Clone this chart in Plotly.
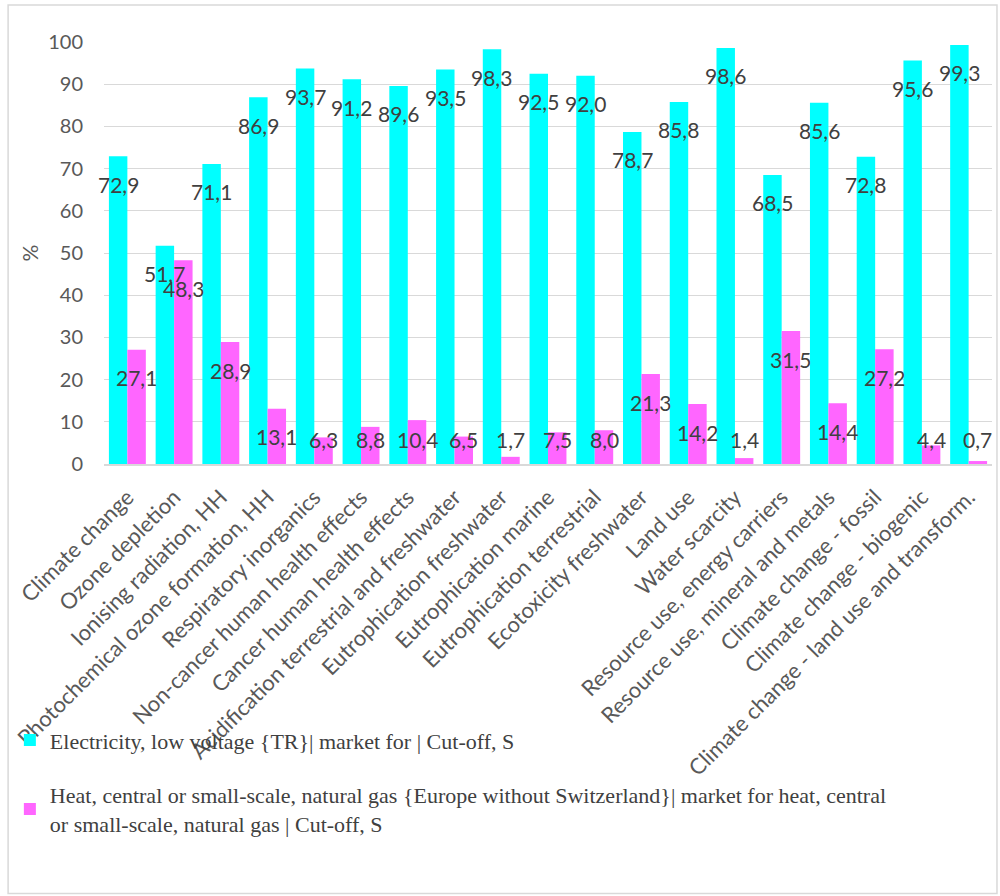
import plotly.graph_objects as go

categories = [
    "Climate change", "Ozone depletion", "Ionising radiation, HH",
    "Photochemical ozone formation, HH", "Respiratory inorganics",
    "Non-cancer human health effects", "Cancer human health effects",
    "Acidification terrestrial and freshwater", "Eutrophication freshwater",
    "Eutrophication marine", "Eutrophication terrestrial", "Ecotoxicity freshwater",
    "Land use", "Water scarcity", "Resource use, energy carriers",
    "Resource use, mineral and metals", "Climate change - fossil",
    "Climate change - biogenic", "Climate change - land use and transform.",
]
electricity = [72.9, 51.7, 71.1, 86.9, 93.7, 91.2, 89.6, 93.5, 98.3, 92.5,
               92.0, 78.7, 85.8, 98.6, 68.5, 85.6, 72.8, 95.6, 99.3]
heat = [27.1, 48.3, 28.9, 13.1, 6.3, 8.8, 10.4, 6.5, 1.7, 7.5,
        8.0, 21.3, 14.2, 1.4, 31.5, 14.4, 27.2, 4.4, 0.7]

name_elec = "Electricity, low voltage {TR}| market for | Cut-off, S"
name_heat = ("Heat, central or small-scale, natural gas {Europe without Switzerland}| "
             "market for heat, central<br>or small-scale, natural gas | Cut-off, S")

CYAN = "#00FFFF"
MAGENTA = "#FF66FF"
LABEL_FONT = dict(family="Lato", size=21, color="#404040")

fig = go.Figure()
fig.add_trace(go.Bar(x=categories, y=electricity, name=name_elec,
                     marker=dict(color=CYAN, line=dict(width=0)),
                     legendgroup="a"))
fig.add_trace(go.Bar(x=categories, y=heat, name=name_heat,
                     marker=dict(color=MAGENTA, line=dict(width=0)),
                     legendgroup="b"))

def fmt(v):
    return f"{v:.1f}".replace(".", ",")

annotations = []
for series, shift in ((electricity, -9.3), (heat, 9.3)):
    for c, v in zip(categories, series):
        annotations.append(dict(
            x=c, y=max(v, 12.5), xref="x", yref="y", text=fmt(v),
            showarrow=False, xshift=shift, yshift=-28,
            font=LABEL_FONT, xanchor="center", yanchor="middle"))

fig.update_layout(
    width=1000, height=896,
    margin=dict(l=104, r=8, t=42, b=432, autoexpand=False),
    paper_bgcolor="white", plot_bgcolor="white",
    barmode="group", bargap=0.21, bargroupgap=0,
    font=dict(family="Lato", color="#595959"),
    annotations=annotations,
    showlegend=True,
    legend=dict(
        x=-0.106, y=-0.605, xanchor="left", yanchor="top",
        orientation="v", traceorder="grouped", tracegroupgap=23,
        font=dict(family="Liberation Serif", size=22, color="#404040"),
        bgcolor="rgba(0,0,0,0)", itemwidth=30,
    ),
    shapes=[dict(type="rect", xref="paper", yref="paper",
                 x0=-0.108, x1=1.0056, y0=-1.018, y1=1.0877,
                 line=dict(color="#D9D9D9", width=1.5), layer="below")],
)

fig.update_yaxes(
    range=[0, 100], dtick=10, showgrid=True, gridcolor="#D9D9D9", gridwidth=1,
    zeroline=False, showline=False, automargin=False,
    tickfont=dict(family="Lato", size=20, color="#595959"),
    ticklabelstandoff=20,
    title=dict(text="%", font=dict(family="Lato", size=21, color="#595959"), standoff=3),
)
fig.update_xaxes(
    range=[-0.5, len(categories) - 0.5],
    tickangle=-45, showline=True, linecolor="#D9D9D9", linewidth=1.5,
    tickfont=dict(family="Lato", size=22, color="#595959"),
    ticklabelstandoff=10,
    showgrid=False, automargin=False,
)

fig.write_html("out.html")
